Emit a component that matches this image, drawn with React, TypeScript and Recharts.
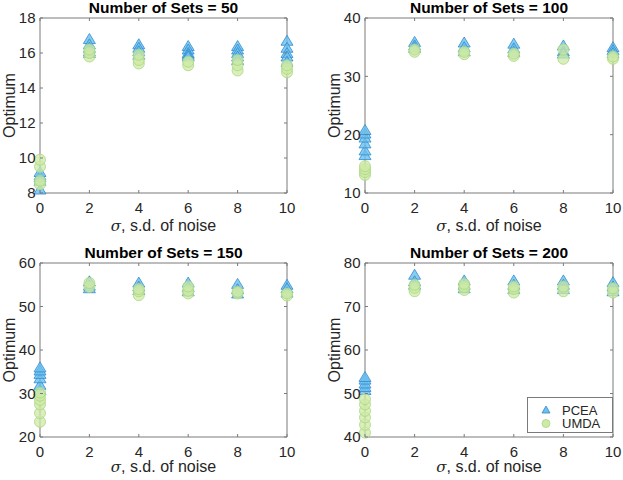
import React from 'react';
import { ScatterChart, Scatter, XAxis, YAxis, ReferenceArea, Legend } from 'recharts';

// ---- data ----
const sigma = [0, 2, 4, 6, 8, 10];
const xTicks = [0, 2, 4, 6, 8, 10];

const pcea50 = [
  [8.2, 8.7, 8.9, 9.0, 9.2],
  [16.8, 16.5, 16.3, 16.1, 16.0],
  [16.5, 16.3, 16.1, 15.9],
  [16.4, 16.2, 16.0, 15.9, 15.8],
  [16.4, 16.2, 16.0, 15.8, 15.6],
  [16.7, 16.3, 16.0, 15.8, 15.5],
];
const umda50 = [
  [8.5, 8.7, 9.5, 9.9],
  [15.8, 16.0, 16.2],
  [15.4, 15.6, 15.9],
  [15.3, 15.5],
  [15.0, 15.3, 15.6],
  [14.9, 15.1, 15.3],
];
const pcea100 = [
  [16.5, 17.3, 18.5, 19.5, 20.2, 20.8],
  [35.9, 35.3, 34.9],
  [35.8, 35.0, 34.3],
  [35.6, 34.8, 34.2],
  [35.3, 34.3, 33.9],
  [35.0, 34.5, 34.0],
];
const umda100 = [
  [13.1, 13.6, 14.1, 14.6],
  [34.2, 34.6],
  [33.8, 34.2],
  [33.5, 33.9],
  [33.0, 34.6],
  [33.0, 33.4],
];
const pcea150 = [
  [30.8, 32.0, 33.5, 34.5, 35.3, 36.0],
  [55.8, 54.8, 54.2],
  [55.5, 54.6, 53.8],
  [55.5, 54.5, 53.5],
  [55.2, 54.0, 53.0],
  [55.0, 54.2, 53.2],
];
const umda150 = [
  [23.5, 25.5, 27.5, 28.5, 29.5, 30.2],
  [54.5, 55.4],
  [52.6, 53.5, 54.0],
  [53.0, 53.6, 54.6],
  [53.0, 53.4],
  [52.5, 53.0],
];
const pcea200 = [
  [50.8, 51.5, 52.3, 53.2, 53.8],
  [77.3, 75.8, 75.0],
  [76.0, 75.0, 74.2],
  [76.0, 75.0, 74.0],
  [76.0, 75.0, 74.0],
  [75.6, 74.6, 73.5],
];
const umda200 = [
  [41.0, 42.8, 44.5, 46.0, 47.5, 48.7],
  [73.5, 74.3, 75.0],
  [73.8, 74.5, 75.2],
  [73.2, 74.0, 74.6],
  [73.5, 74.6],
  [73.2, 74.2],
];

const yTicks50 = [8, 10, 12, 14, 16, 18];
const yTicks100 = [10, 20, 30, 40];
const yTicks150 = [20, 30, 40, 50, 60];
const yTicks200 = [40, 50, 60, 70, 80];

const titles = ['Number of Sets = 50', 'Number of Sets = 100', 'Number of Sets = 150', 'Number of Sets = 200'];
const seriesNames = ['PCEA', 'UMDA'];

// ---- styles ----
const FONT = '"Liberation Sans", Arial, Helvetica, sans-serif';
const AX = '#7a7a7a';
const TXT = '#262626';
const TRI_FILL = '#6cbfee';
const TRI_STROKE = '#2f8bd0';
const CIR_FILL = '#cdeaa6';
const CIR_STROKE = '#a9d783';
const TICK_LEN = 3;
const TICK_FONT = 15;

function toPoints(groups: number[][]) {
  return sigma.flatMap((s, i) => groups[i].map((v) => ({ x: s, y: v })));
}

const Tri = (p: any) => {
  const { cx, cy } = p;
  if (cx == null || cy == null) return <g />;
  return (
    <polygon
      points={`${cx},${cy - 5.5} ${cx - 6},${cy + 4.5} ${cx + 6},${cy + 4.5}`}
      fill={TRI_FILL}
      fillOpacity={0.8}
      stroke={TRI_STROKE}
      strokeWidth={0.8}
    />
  );
};

const Cir = (p: any) => {
  const { cx, cy } = p;
  if (cx == null || cy == null) return <g />;
  return <circle cx={cx} cy={cy} r={5.5} fill={CIR_FILL} fillOpacity={0.75} stroke={CIR_STROKE} strokeWidth={0.8} />;
};

type PanelProps = {
  left: number;
  top: number;
  width: number;
  height: number;
  mTop: number;
  mRight: number;
  yWidth: number;
  xHeight: number;
  xLabelDy: number;
  title: string;
  yTicks: number[];
  pcea: number[][];
  umda: number[][];
  legend?: boolean;
};

function Panel(props: PanelProps) {
  const { left, top, width, height, mTop, mRight, yWidth, xHeight, xLabelDy, title, yTicks, pcea, umda, legend } = props;
  const plotW = width - yWidth - mRight;
  const plotH = height - mTop - xHeight;
  const yMin = yTicks[0];
  const yMax = yTicks[yTicks.length - 1];

  const xTick = (p: any) => (
    <g>
      <line x1={p.x} x2={p.x} y1={p.y} y2={p.y - TICK_LEN} stroke={AX} />
      <line x1={p.x} x2={p.x} y1={p.y - plotH} y2={p.y - plotH + TICK_LEN} stroke={AX} />
      <text x={p.x} y={p.y + 19.5} textAnchor="middle" fontSize={TICK_FONT} fontFamily={FONT} fill={TXT}>
        {p.payload.value}
      </text>
    </g>
  );
  const yTick = (p: any) => (
    <g>
      <line x1={p.x} x2={p.x + TICK_LEN} y1={p.y} y2={p.y} stroke={AX} />
      <line x1={p.x + plotW} x2={p.x + plotW - TICK_LEN} y1={p.y} y2={p.y} stroke={AX} />
      <text x={p.x - 4.5} y={p.y} dy="0.36em" textAnchor="end" fontSize={TICK_FONT} fontFamily={FONT} fill={TXT}>
        {p.payload.value}
      </text>
    </g>
  );

  const xLabel = (p: any) => {
    const vb = p.viewBox;
    return (
      <text x={vb.x + vb.width / 2} y={vb.y + xLabelDy} textAnchor="middle" fontSize={16} fontFamily={FONT} fill={TXT}>
        <tspan fontStyle="italic" fontFamily='"DejaVu Serif", "Liberation Serif", serif' fontSize={15}>σ</tspan>
        <tspan>, s.d. of noise</tspan>
      </text>
    );
  };
  const yLabel = (p: any) => {
    const vb = p.viewBox;
    const lx = vb.x + vb.width - 25.5;
    const ly = vb.y + vb.height / 2;
    return (
      <text x={lx} y={ly} transform={`rotate(-90 ${lx} ${ly})`} textAnchor="middle" fontSize={16} fontFamily={FONT} fill={TXT}>
        Optimum
      </text>
    );
  };

  const legendContent = (p: any) => {
    const payload = p.payload || [];
    return (
      <svg width={86} height={36} style={{ display: 'block' }}>
        <rect x={0.5} y={0.5} width={85} height={35} fill="#fff" stroke={AX} />
        {payload.map((e: any, i: number) => {
          const cy = 13 + i * 13.5;
          return (
            <g key={i}>
              {i === 0 ? (
                <polygon points={`19,${cy - 4} 15,${cy + 3} 23,${cy + 3}`} fill={TRI_FILL} stroke={TRI_STROKE} strokeWidth={0.8} />
              ) : (
                <circle cx={19} cy={cy} r={4} fill={CIR_FILL} stroke={CIR_STROKE} strokeWidth={0.8} />
              )}
              <text x={35} y={cy + 4.5} fontSize={13} fontFamily={FONT} fill={TXT}>
                {e.value}
              </text>
            </g>
          );
        })}
      </svg>
    );
  };

  return (
    <div style={{ position: 'absolute', left, top, width, height }}>
      <ScatterChart width={width} height={height} margin={{ top: mTop, right: mRight, bottom: 0, left: 0 }}>
        <XAxis
          type="number"
          dataKey="x"
          domain={[0, 10]}
          ticks={xTicks}
          height={xHeight}
          axisLine={false}
          tickLine={false}
          tickSize={0}
          tickMargin={0}
          tick={xTick}
          interval={0}
          label={xLabel}
        />
        <YAxis
          type="number"
          dataKey="y"
          domain={[yMin, yMax]}
          ticks={yTicks}
          width={yWidth}
          axisLine={false}
          tickLine={false}
          tickSize={0}
          tickMargin={0}
          tick={yTick}
          interval={0}
          label={yLabel}
        />
        <ReferenceArea x1={0} x2={10} y1={yMin} y2={yMax} fill="none" stroke={AX} strokeWidth={1} ifOverflow="visible" />
        <Scatter name={seriesNames[0]} data={toPoints(pcea)} shape={Tri} isAnimationActive={false} />
        <Scatter name={seriesNames[1]} data={toPoints(umda)} shape={Cir} isAnimationActive={false} />
        {legend ? (
          <Legend
            layout="vertical"
            align="center"
            verticalAlign="middle"
            wrapperStyle={{ left: 216, top: 157, width: 86, height: 36 }}
            content={legendContent}
          />
        ) : null}
      </ScatterChart>
      <svg width={width} height={mTop} style={{ position: 'absolute', left: 0, top: 0, pointerEvents: 'none' }}>
        <text x={yWidth + plotW / 2} y={mTop - 5} textAnchor="middle" fontSize={15.5} fontWeight="bold" fontFamily={FONT} fill="#000">
          {title}
        </text>
      </svg>
    </div>
  );
}

export default function App() {
  return (
    <div style={{ position: 'absolute', left: 0, top: 0, width: 623, height: 480, background: '#fff', overflow: 'hidden' }}>
      <Panel left={0} top={0} width={311} height={240} mTop={18} mRight={24} yWidth={40} xHeight={47} xLabelDy={38}
        title={titles[0]} yTicks={yTicks50} pcea={pcea50} umda={umda50} />
      <Panel left={311} top={0} width={312} height={240} mTop={18} mRight={10} yWidth={54} xHeight={47} xLabelDy={38}
        title={titles[1]} yTicks={yTicks100} pcea={pcea100} umda={umda100} />
      <Panel left={0} top={240} width={311} height={240} mTop={23} mRight={24} yWidth={40} xHeight={43} xLabelDy={35}
        title={titles[2]} yTicks={yTicks150} pcea={pcea150} umda={umda150} />
      <Panel left={311} top={240} width={312} height={240} mTop={23} mRight={10} yWidth={54} xHeight={43} xLabelDy={35}
        title={titles[3]} yTicks={yTicks200} pcea={pcea200} umda={umda200} legend />
    </div>
  );
}
